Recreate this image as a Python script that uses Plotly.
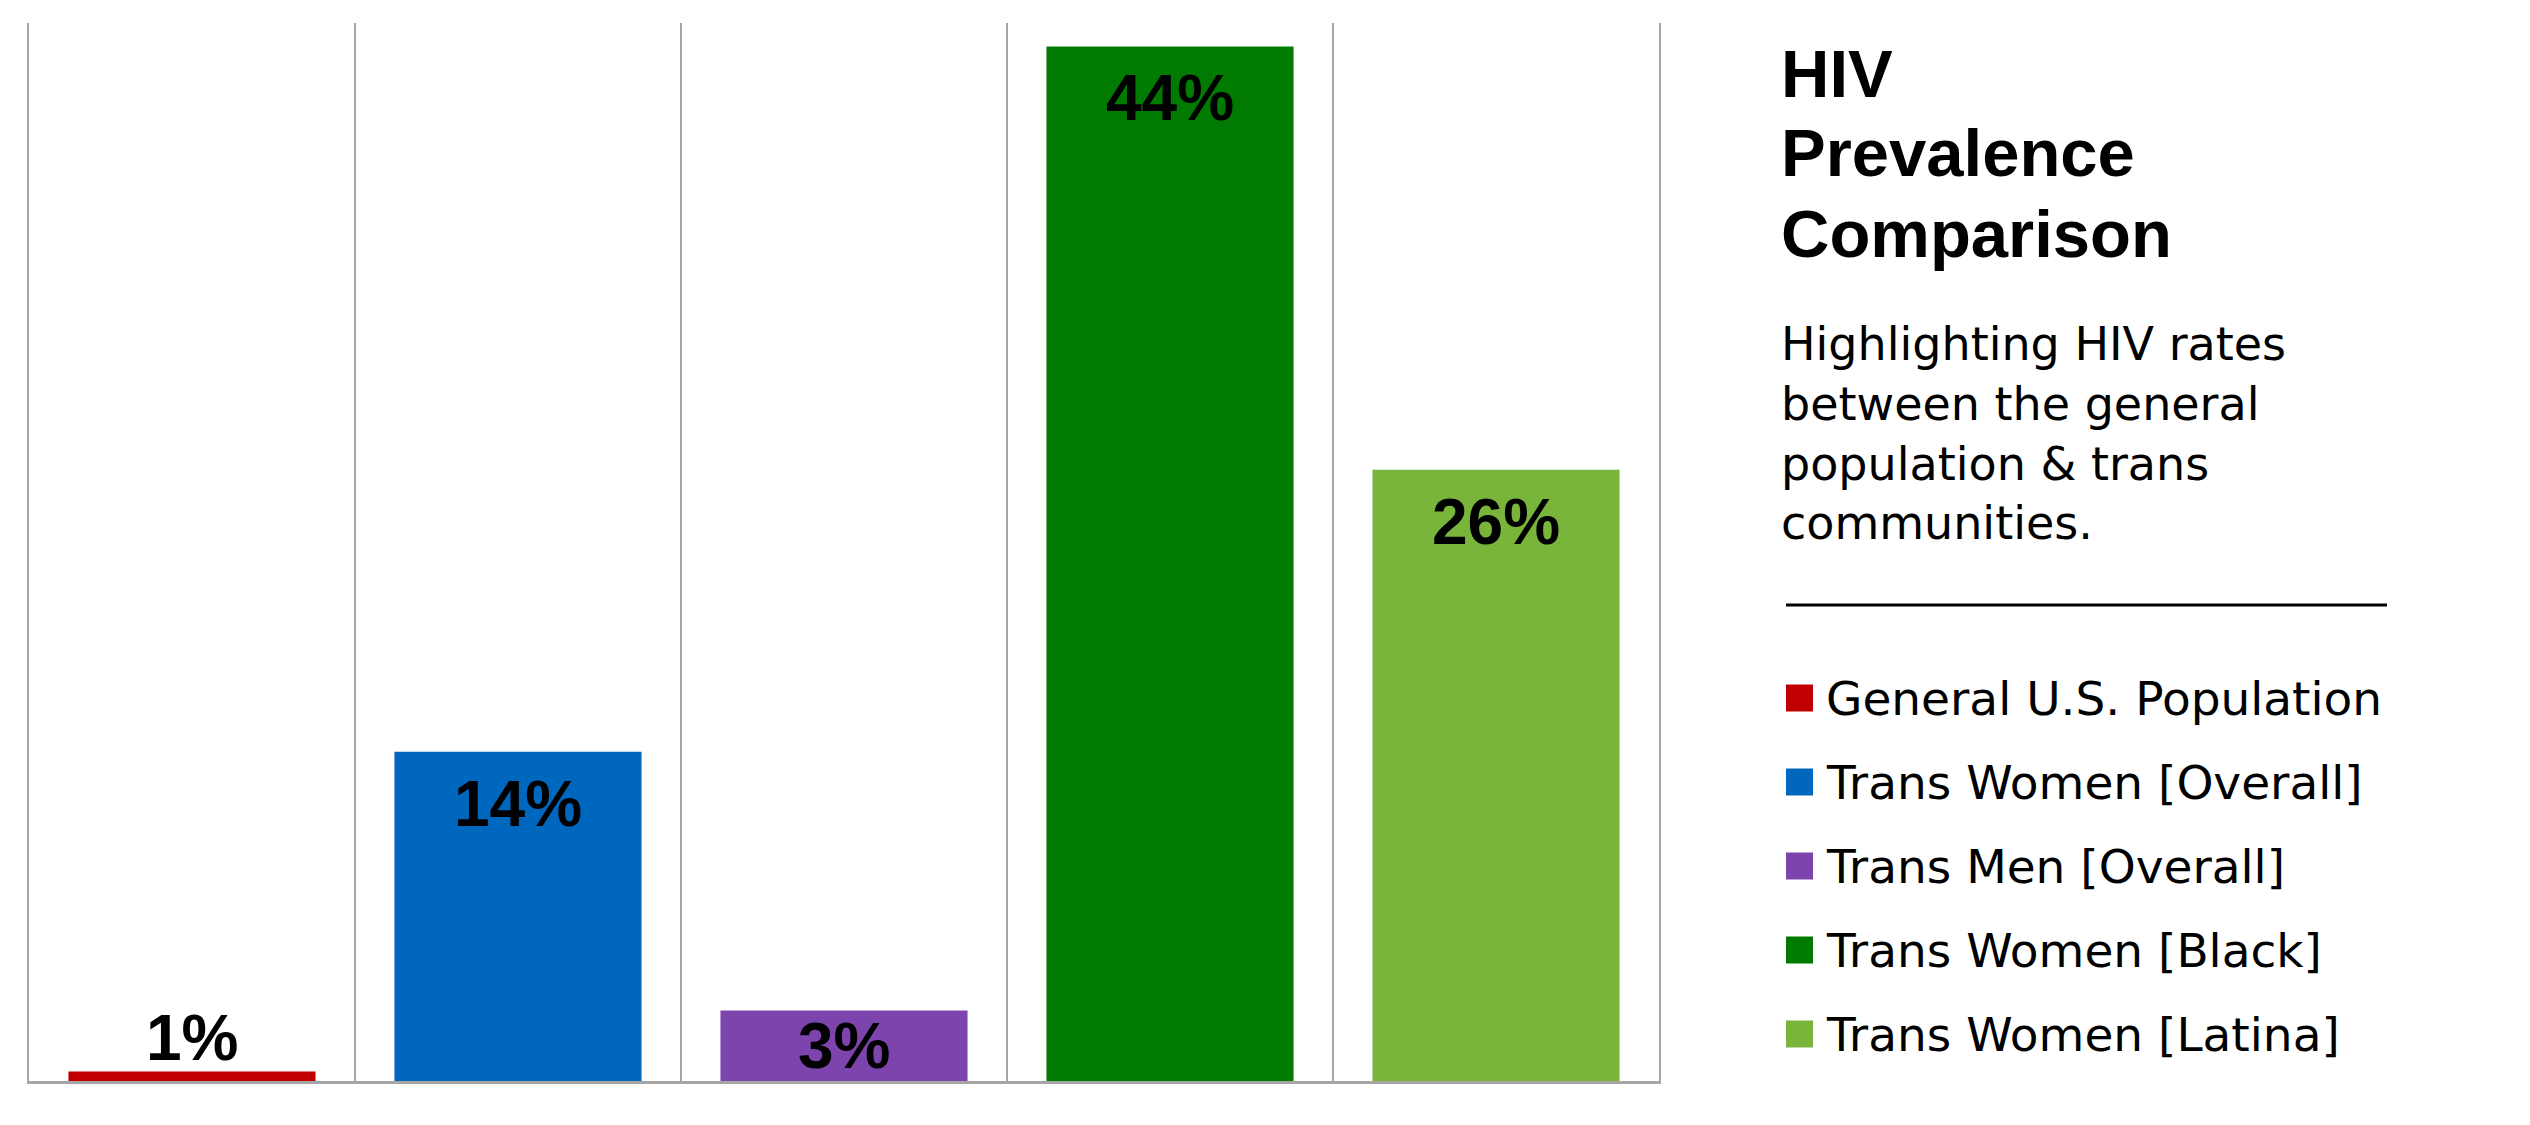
import plotly.graph_objects as go

# ---- data ----
categories = ["General U.S. Population", "Trans Women [Overall]", "Trans Men [Overall]",
              "Trans Women [Black]", "Trans Women [Latina]"]
values = [0.4, 14, 3, 44, 26]
labels = ["1%", "14%", "3%", "44%", "26%"]
colors = ["#C00000", "#0067BE", "#7E44AE", "#007A00", "#79B53B"]

title_lines = ["HIV", "Prevalence", "Comparison"]
subtitle = "Highlighting HIV rates<br>between the general<br>population &amp; trans<br>communities."

# ---- layout geometry (page pixels; page body has an 8px margin) ----
OFF = 8
W, H = 2530 - 2 * OFF, 1125 - 2 * OFF
PLOT_L, PLOT_R, PLOT_T, PLOT_B = 29, 1659, 23, 1081   # page coords
ML = PLOT_L - OFF
MT = PLOT_T - OFF
MR = W - (PLOT_R - OFF)
MB = H - (PLOT_B - OFF)
PW, PH = PLOT_R - PLOT_L, PLOT_B - PLOT_T
Y_MAX = 45


def px(x):
    return (x - PLOT_L) / PW


def py(y):
    return (PLOT_B - y) / PH


GRID = "#A6A6A6"
LABEL_SIZE = 64
CAP = 0.716 * LABEL_SIZE          # cap height of label font
TOP_INNER = 0.189 * LABEL_SIZE + 1  # bbox top -> cap top

fig = go.Figure()
fig.add_trace(go.Bar(
    x=categories, y=values,
    marker=dict(color=colors, line=dict(width=0)),
    showlegend=False, hoverinfo="x+y",
))

annotations = []
shapes = []

# value labels (inside end when the bar is tall enough, otherwise above)
for cat, val, lab in zip(categories, values, labels):
    bar_px = val / Y_MAX * PH
    common = dict(xref="x", yref="y", x=cat, y=val, showarrow=False, text=f"<b>{lab}</b>",
                  font=dict(family="Liberation Sans, Arial, sans-serif", size=LABEL_SIZE, color="black"))
    if bar_px >= CAP + 20:
        gap = min(27, (bar_px - CAP) / 2 - 2)
        annotations.append(dict(**common, yanchor="top", yshift=-(gap - TOP_INNER)))
    else:
        annotations.append(dict(**common, yanchor="bottom", yshift=-4))

# title
for i, line in enumerate(title_lines):
    annotations.append(dict(
        xref="paper", yref="paper", x=px(1779), y=py(73 + 80 * i),
        xanchor="left", yanchor="middle", showarrow=False, align="left",
        text=f"<b>{line}</b>",
        font=dict(family="Liberation Sans, Arial, sans-serif", size=67, color="black"),
    ))

# subtitle
annotations.append(dict(
    xref="paper", yref="paper", x=px(1779), y=py(433),
    xanchor="left", yanchor="middle", showarrow=False, align="left",
    text=subtitle,
    font=dict(family="DejaVu Sans, sans-serif", size=46, color="black"),
))

# divider
shapes.append(dict(type="line", xref="paper", yref="paper",
                   x0=px(1786), x1=px(2387), y0=py(605), y1=py(605),
                   line=dict(color="black", width=3)))

# custom legend
for i, (name, col) in enumerate(zip(categories, colors)):
    cy = 698 + 84 * i
    shapes.append(dict(type="rect", xref="paper", yref="paper",
                       x0=px(1786), x1=px(1813), y0=py(cy - 13.5), y1=py(cy + 13.5),
                       fillcolor=col, line=dict(width=0)))
    annotations.append(dict(
        xref="paper", yref="paper", x=px(1824), y=py(cy),
        xanchor="left", yanchor="middle", showarrow=False, align="left",
        text=name,
        font=dict(family="DejaVu Sans, sans-serif", size=47, color="black"),
    ))

fig.update_layout(
    width=W, height=H,
    margin=dict(l=ML, r=MR, t=MT, b=MB, pad=0),
    paper_bgcolor="white", plot_bgcolor="white",
    bargap=0.242,
    annotations=annotations, shapes=shapes,
    xaxis=dict(type="category", range=[-0.5, 4.5], tickson="boundaries",
               showgrid=True, gridcolor=GRID, gridwidth=2,
               showticklabels=False, ticks="",
               showline=True, linecolor=GRID, linewidth=3, zeroline=False),
    yaxis=dict(range=[0, Y_MAX], showgrid=False, zeroline=False, showticklabels=False,
               ticks="", showline=True, mirror=True, linecolor=GRID, linewidth=2),
)

fig.write_html("out.html")
